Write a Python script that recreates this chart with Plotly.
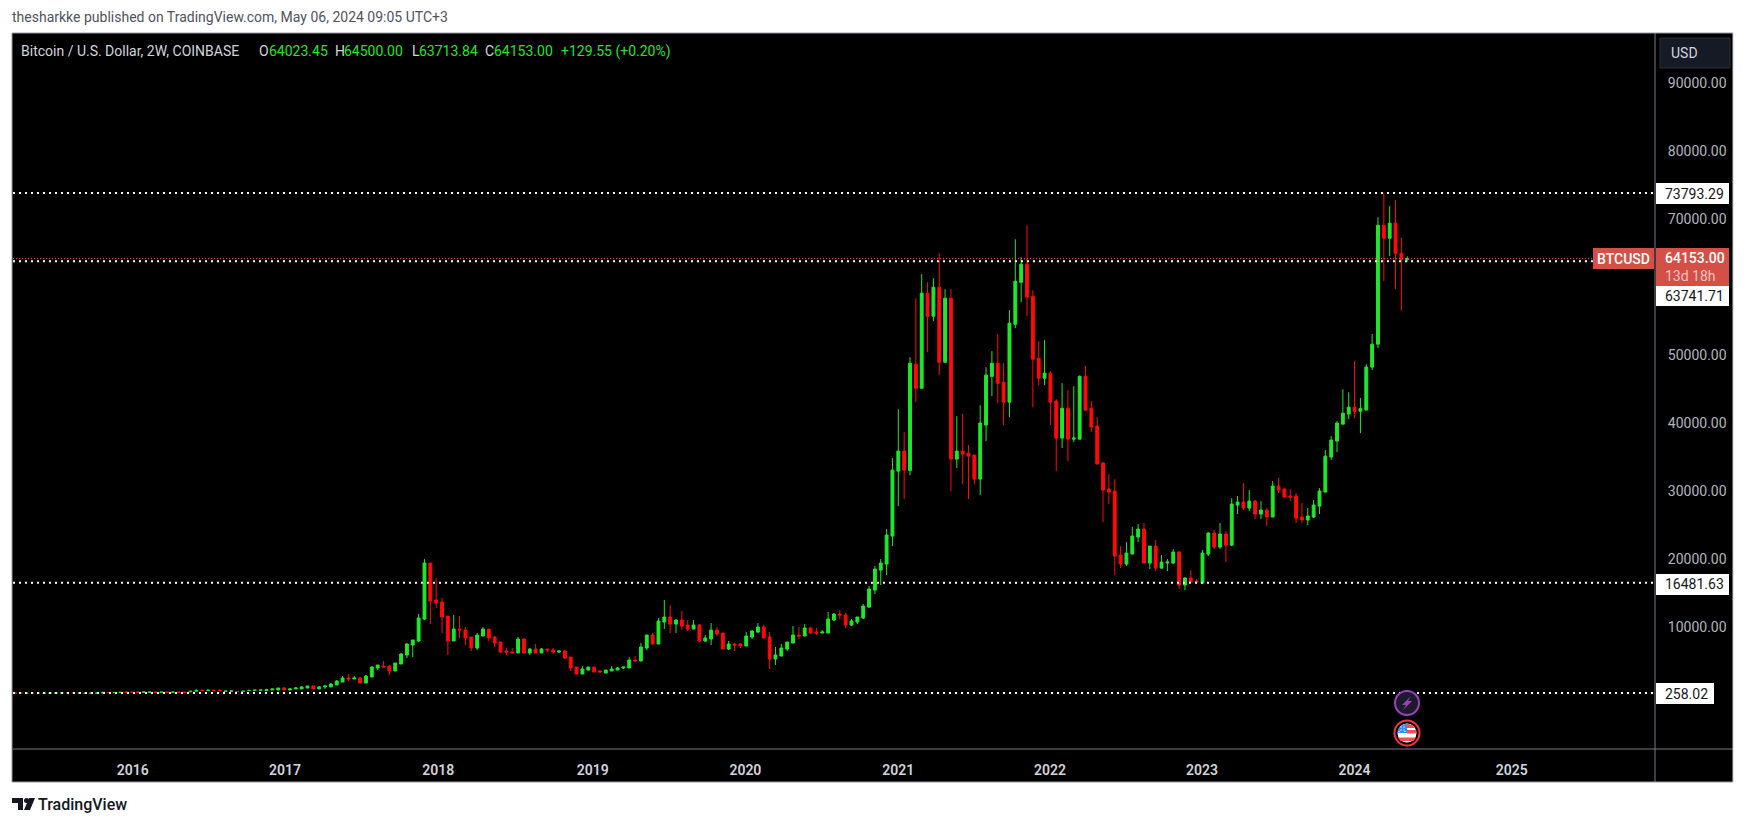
import pandas as pd
import plotly.graph_objects as go

# newest bar first (2-week BTCUSD bars)
last_bar = "2024-05-06"
opens = [64023,64940,69360,67150,69050,51570,48190,41870,41700,42300,41280,39800,37310,34960,29810,27750,26140,25700,26140,29230,
 29230,30250,30690,26140,27165,26580,28490,27460,28340,27900,22000,23640,21720,23785,20700,16430,16725,17170,16140,20990,
 19375,19375,18640,21870,19375,24370,23200,20700,19230,20550,29960,30250,34080,39520,42145,46830,37600,37600,42140,37750,
 43190,47300,46570,49500,58620,63320,60670,54500,43040,45970,48760,46830,39660,31720,35250,35540,35840,34660,58320,48900,
 59940,55680,59060,45090,48610,33000,35840,32900,23345,19230,18340,15400,12900,11290,10700,10260,11730,11880,10990,9080,
 9080,9230,9820,8640,8790,7610,6730,5700,5260,8500,9960,9230,8500,7170,7470,7470,6730,9080,9520,8200,
 7910,10260,9670,10260,10990,10400,11440,10700,7470,8790,6880,4970,5110,3940,3940,3640,3500,3200,3500,4080,
 3640,3060,4080,5550,6440,6290,6590,6730,6150,6730,6150,8200,6150,6290,6440,7760,8500,9670,8640,6880,
 8500,9520,9670,7910,11580,13640,13940,19375,11140,7910,7320,5850,4530,3500,4230,4230,3940,2620,1730,2470,
 2320,2470,1880,1440,1150,1150,860,1300,1000,860,860,710,1000,710,710,600,670,660,620,500,
 500,520,510,680,680,640,680,530,440,385,385,370,395,375,400,375,380,400,385,390,
 335,310,340,275,235,228,225,260,270,285,270,250,245,232,236,236,225,245,260]
highs = [64500,67233,72750,71870,73835,70230,53040,48630,43630,49070,44500,44940,40250,38040,35980,30400,28640,27460,28200,29670,
 30250,30400,31870,31430,27460,28490,28640,30100,31130,29230,28930,24080,25260,24225,23930,21280,17020,18340,17315,21130,
 21430,19960,20550,22750,21870,25260,25110,24660,22460,21870,31720,32450,34220,40835,43190,48320,46980,45380,44800,45830,
 43480,47600,52150,52000,59500,69050,64350,67000,56560,48760,53040,50540,48170,42590,35250,36720,41280,40980,59650,59650,
 64940,61260,60670,61850,58320,49650,38630,42000,34810,24370,19960,18930,15990,13350,11440,11140,12025,12470,12020,12170,
 9520,9820,9960,10400,9960,10110,7760,7470,7030,9230,10260,10550,9520,9230,7610,7610,7910,9080,9960,10550,
 8790,10400,10990,10990,12320,11140,13200,13940,11290,9080,8790,7610,5700,5550,4080,4080,4230,3640,3640,4080,
 4080,4230,4080,5550,6590,6440,6880,6730,6880,7470,6880,8350,8500,6880,6880,7760,8640,9670,9960,9080,
 8500,9960,11580,11730,11580,14260,17170,19375,19960,11880,8060,7610,6150,4670,4380,4970,4380,4230,2910,2620,
 2760,3060,2760,2170,1730,1300,1300,1300,1300,1300,1150,1000,1150,1000,860,900,720,700,660,540,
 510,710,550,690,690,690,700,800,525,400,400,400,400,400,410,400,415,410,395,400,
 370,340,360,510,250,245,240,270,275,290,290,275,255,250,240,240,240,250,265]
lows = [63714,56500,59650,64500,60830,50980,47750,41870,38490,40690,40540,39800,35690,34520,29810,26580,25990,24960,25250,25250,
 28490,28930,29670,26140,24810,25840,25840,27020,27165,26580,21870,19520,21430,21430,20400,16430,16285,16580,15400,15550,
 19230,18200,18490,18200,18490,19375,22460,20700,18930,18640,17610,28050,25400,33930,38630,41850,37600,37160,34370,36280,
 32900,39660,45530,45530,42290,55680,57740,53920,40830,39660,42880,43920,37310,29370,30990,28780,30990,33340,29960,48760,
 47010,54940,50380,45090,43040,32300,28780,27750,21870,17610,16140,14820,12760,11140,10400,10110,9820,11140,10850,9080,
 9080,8790,8940,8640,8200,7610,6440,5700,4380,3790,8350,9080,8200,7170,6880,6440,6590,6730,8640,7320,
 7760,7760,9670,9380,9520,9080,9080,9670,7470,7470,6590,4970,4970,3940,3790,3640,3500,3200,3350,3350,
 3640,3060,3060,3500,5260,6150,6000,6290,6150,6150,5850,6000,6150,6150,5850,6150,7030,7910,8640,6590,
 6440,7320,8350,7910,5850,9080,12760,10400,10990,7760,5550,5400,4530,3500,2910,4080,3640,2620,1730,1730,
 2320,2030,1880,1440,1150,860,860,860,1000,860,860,710,710,710,710,560,650,640,600,490,
 460,510,500,640,640,630,640,500,430,360,360,365,365,370,370,370,375,375,365,365,
 330,300,310,270,230,225,220,255,255,265,265,245,240,230,228,230,222,220,240]
closes = [64153,64023,64940,69360,67150,69050,51570,48190,42100,41700,42300,41410,39960,37460,35100,29960,27900,26290,25700,25990,
 29080,29080,30100,30690,26140,27165,26580,28490,27460,28340,28050,22020,23640,21720,23785,20840,16580,16580,17170,16140,
 20990,19520,19520,18640,21870,19375,24370,23345,20840,19230,20400,29810,30100,33930,39375,41850,46830,37750,37600,42140,
 37750,43040,47300,46570,49350,58470,63320,60820,54650,43040,45830,48760,47010,39960,31720,35100,35400,35840,34660,58320,
 48900,59940,55680,59060,45090,48760,33040,35840,33040,23490,19375,18490,15550,13050,11440,10850,10260,11730,11880,11140,
 9230,9080,9080,9820,8640,8790,7760,6880,5850,5260,8350,9960,9380,8640,7170,7320,7470,6730,8940,9520,
 8350,7910,10260,9670,10110,10990,10400,11440,10850,7470,8790,7030,4970,5110,4080,3940,3790,3640,3350,3350,
 4080,3790,3060,3940,5400,6440,6290,6590,6730,6150,6730,6150,8200,6150,6290,6290,7610,8350,9670,8790,
 6880,8350,9520,9670,7910,11440,13500,13790,19375,11290,8060,7470,6000,4670,3500,4080,4380,4080,2760,1730,
 2470,2320,2470,2030,1590,1300,1150,860,1300,1150,1000,860,710,1000,860,750,700,690,650,530,
 470,560,540,650,650,680,650,650,520,365,365,395,370,395,375,395,410,380,370,370,
 365,335,310,320,245,240,235,265,260,270,285,270,250,245,232,235,236,225,245]

level_values = [73793.29, 63741.71, 16481.63, 258.02]
level_labels = ["73793.29", "63741.71", "16481.63", "258.02"]
current_price = 64153.00
price_ticks = [10000, 20000, 30000, 40000, 50000, 70000, 80000, 90000]
year_labels = ["2016", "2017", "2018", "2019", "2020", "2021", "2022", "2023", "2024", "2025"]
year_ticks = ["2015-12-30", "2016-12-28", "2017-12-30", "2019-01-04", "2020-01-04", "2021-01-04",
              "2022-01-02", "2023-01-01", "2024-01-01", "2025-01-11"]

GREEN = "#1fe82b"
RED = "#ff0a0a"
FONT = "Roboto, sans-serif"
L, R, T, B = 13, 1655, 33, 749

def fx(p):
    return (p - L) / (R - L)

def fy(p):
    return (B - p) / (B - T)

dates = pd.date_range(end=last_bar, periods=len(opens), freq="14D")[::-1]

fig = go.Figure(go.Candlestick(
    x=dates, open=opens, high=highs, low=lows, close=closes,
    increasing=dict(line=dict(color=GREEN, width=1), fillcolor=GREEN),
    decreasing=dict(line=dict(color=RED, width=1), fillcolor=RED),
    whiskerwidth=0, hoverinfo="skip", showlegend=False,
))

shapes = []

def rect(x0, y0, x1, y1, fill, line=None, layer="above"):
    shapes.append(dict(type="rect", xref="paper", yref="paper", x0=fx(x0), x1=fx(x1), y0=fy(y0), y1=fy(y1),
                       fillcolor=fill, line=dict(color=line or fill, width=1 if line else 0), layer=layer))

def vline(x, y0, y1, color, width=1):
    shapes.append(dict(type="line", xref="paper", yref="paper", x0=fx(x), x1=fx(x), y0=fy(y0), y1=fy(y1),
                       line=dict(color=color, width=width), layer="above"))

def hline(y, x0, x1, color, width=1):
    shapes.append(dict(type="line", xref="paper", yref="paper", x0=fx(x0), x1=fx(x1), y0=fy(y), y1=fy(y),
                       line=dict(color=color, width=width), layer="above"))

def circle(cx, cy, r, fill, line=None, width=2):
    shapes.append(dict(type="circle", xref="paper", yref="paper", x0=fx(cx - r), x1=fx(cx + r),
                       y0=fy(cy + r), y1=fy(cy - r), fillcolor=fill,
                       line=dict(color=line or fill, width=width if line else 0), layer="above"))

def poly(points, fill):
    d = "M" + " L".join(f"{fx(a):.6f},{fy(b):.6f}" for a, b in points) + " Z"
    shapes.append(dict(type="path", xref="paper", yref="paper", path=d, fillcolor=fill, line=dict(width=0), layer="above"))

# black panel below the x axis and right of the price axis
rect(12, 33, 1733, 782, "#000000", layer="below")

# horizontal levels
for v in level_values:
    shapes.append(dict(type="line", xref="paper", yref="y", x0=0, x1=fx(1653), y0=v, y1=v,
                       line=dict(color="#ffffff", width=2, dash="2px,4px"), layer="above"))
shapes.append(dict(type="line", xref="paper", yref="y", x0=0, x1=fx(1593), y0=current_price, y1=current_price,
                   line=dict(color="#ff4a4a", width=1, dash="1px,2px"), layer="above"))

# frame
vline(1655, 33, 782, "#787b86")
hline(749, 13, 1733, "#787b86")
hline(782, 12, 1733, "#9598a1")
hline(33, 12, 1733, "#9598a1")
vline(12, 33, 782, "#9598a1")
vline(1733, 33, 782, "#c8cad0")

# price scale tags
rect(1660, 38, 1730, 68, "#161a25", "#2a2e39")
rect(1656, 183, 1729, 204, "#ffffff")
rect(1593, 248, 1654, 269, "#d64f46")
rect(1656, 248, 1729, 286, "#d64f46")
rect(1656, 286, 1729, 306, "#ffffff")
rect(1656, 574, 1729, 595, "#ffffff")
rect(1656, 683, 1714, 704, "#ffffff")

# event icons
circle(1407, 703, 12, "#1b1b2b", "#9c3fc0")
poly([(1411, 696), (1402, 705), (1406, 705), (1403, 710), (1412, 701), (1408, 701)], "#9c3fc0")
circle(1407, 733, 12.5, "#000000", "#f23645")
circle(1407, 733, 9.5, "#ffffff")
poly([(1401, 725.5), (1407, 723.5), (1407, 733), (1397.5, 733), (1398, 729)], "#2f8fef")
poly([(1407, 723.5), (1413, 725.5), (1415, 728), (1407, 728)], "#ef5350")
poly([(1407, 730), (1416.3, 730), (1416.5, 733.5), (1407, 733.5)], "#ef5350")
poly([(1398, 737.5), (1416, 737.5), (1413.5, 741), (1400.5, 741)], "#ef5350")
for a, b in [(1401, 727), (1404, 727), (1401, 730), (1404, 730), (1399, 731.5), (1405, 731.5)]:
    rect(a - 0.6, b - 0.6, a + 0.6, b + 0.6, "#ffffff")

# TradingView logo
poly([(12, 798), (23, 798), (23, 810), (18, 810), (18, 803), (12, 803)], "#131722")
circle(26.5, 800.5, 2.5, "#131722")
poly([(29, 798), (35, 798), (30, 810), (24, 810)], "#131722")

annotations = []

def text(x, y, s, color, size=14, anchor="left", family=FONT, weight=None):
    f = dict(color=color, size=size, family=family)
    if weight:
        f["weight"] = weight
    annotations.append(dict(xref="paper", yref="paper", x=fx(x), y=fy(y), text=s, showarrow=False,
                            xanchor=anchor, yanchor="middle", font=f, xshift=0, yshift=0,
                            borderpad=0, borderwidth=0))

text(12, 17, "thesharkke published on TradingView.com, May 06, 2024 09:05 UTC+3", "#50535e")
text(21, 51, "Bitcoin / U.S. Dollar, 2W, COINBASE", "#d1d4dc")
ohlc_header = [(259, 269, "O", "64023.45"), (335, 344, "H", "64500.00"), (412, 419, "L", "63713.84"), (485, 494, "C", "64153.00")]
for xp, xv, k, v in ohlc_header:
    text(xp, 51, k, "#d1d4dc")
    text(xv, 51, v, "#22e622")
text(561, 51, "+129.55 (+0.20%)", "#22e622")

text(1671, 53, "USD", "#d1d4dc")
tag_y = [194, 296, 584, 694]
for s, yp in zip(level_labels, tag_y):
    text(1665, yp, s, "#131722")
text(1597, 259, "BTCUSD", "#ffffff", weight=500)
text(1665, 258, "64153.00", "#ffffff", weight=500)
text(1665, 276, "13d 18h", "#f5c4bf")
text(38, 804, "TradingView", "#131722", size=16, weight=500)

fig.update_layout(
    width=1746, height=825, autosize=False,
    margin=dict(l=L, r=1746 - R, t=T, b=825 - B, pad=0),
    paper_bgcolor="#ffffff", plot_bgcolor="#000000",
    showlegend=False, hovermode=False, dragmode=False,
    shapes=shapes, annotations=annotations,
    xaxis=dict(type="date", range=["2015-03-18 05:00", "2025-12-20"], rangeslider=dict(visible=False),
               tickmode="array", tickvals=year_ticks, ticktext=year_labels, showgrid=False, zeroline=False,
               ticks="outside", ticklen=8, tickcolor="rgba(0,0,0,0)", showline=False,
               tickfont=dict(color="#d1d4dc", size=14, family=FONT, weight=600)),
    yaxis=dict(side="right", range=[-7971, 97326], tickmode="array", tickvals=price_ticks,
               tickformat=".2f", showgrid=False, zeroline=False, ticks="outside", ticklen=9,
               tickcolor="rgba(0,0,0,0)", showline=False,
               tickfont=dict(color="#b2b5be", size=14, family=FONT)),
)

fig.write_html("out.html", post_script="document.body.style.margin='0';document.body.style.overflow='hidden';",
               config=dict(displayModeBar=False))
